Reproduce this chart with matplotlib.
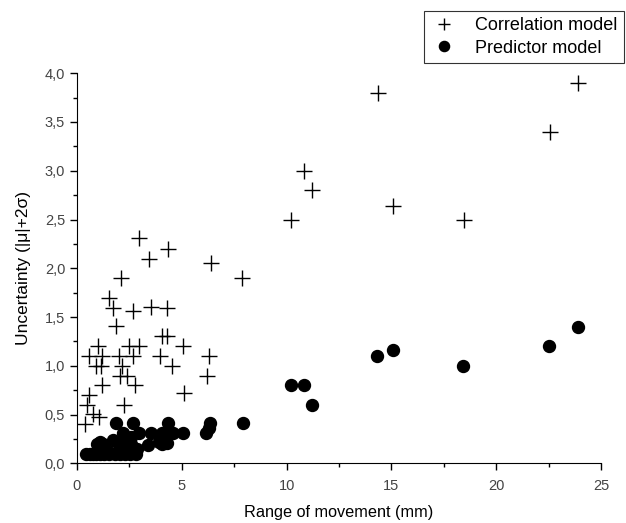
import matplotlib
matplotlib.use("Agg")
import matplotlib.pyplot as plt
from matplotlib.ticker import MultipleLocator, FuncFormatter

plt.rcParams["font.family"] = ["Liberation Sans", "DejaVu Sans"]

# Correlation model (crosses)
corr_x = [23.9, 14.35, 22.55, 10.85, 11.2, 10.2, 15.1, 18.45,
          2.95, 4.35, 3.45, 2.1, 1.55, 1.7, 2.65, 3.55, 4.3, 1.85,
          4.05, 4.3, 1.0, 2.5, 2.95, 5.05, 0.55, 1.2, 2.0, 2.65, 3.95,
          0.9, 1.15, 2.15, 4.55, 2.05, 2.4, 1.2, 2.75, 5.1, 0.55, 0.5,
          2.25, 0.75, 1.05, 0.4, 6.4, 7.85, 6.3, 6.2]
corr_y = [3.9, 3.8, 3.4, 3.0, 2.8, 2.5, 2.64, 2.5,
          2.31, 2.2, 2.1, 1.9, 1.7, 1.59, 1.56, 1.6, 1.59, 1.41,
          1.31, 1.31, 1.2, 1.2, 1.2, 1.2, 1.1, 1.1, 1.1, 1.1, 1.1,
          1.0, 1.0, 1.0, 1.0, 0.9, 0.9, 0.8, 0.8, 0.72, 0.7, 0.6,
          0.6, 0.51, 0.48, 0.4, 2.05, 1.9, 1.1, 0.9]

# Predictor model (filled circles)
pred_x = [0.45, 0.6, 0.75, 0.9, 1.1, 1.3, 1.55, 1.8, 2.05, 2.3, 2.55, 2.8,
          0.95, 1.1, 1.25, 1.7, 2.0, 2.3, 2.6, 2.85, 3.4, 3.9, 4.05, 4.3,
          1.2, 1.5, 2.2, 2.7, 2.2, 2.95, 3.55, 4.05, 4.45, 4.6, 5.05, 2.6, 2.4,
          1.85, 2.65, 4.35, 6.15, 6.3, 6.35, 7.9,
          10.2, 10.85, 11.2, 14.3, 15.1, 18.4, 22.5, 23.9]
pred_y = [0.1, 0.1, 0.1, 0.1, 0.1, 0.1, 0.1, 0.1, 0.1, 0.1, 0.1, 0.1,
          0.2, 0.22, 0.2, 0.24, 0.2, 0.18, 0.2, 0.15, 0.19, 0.22, 0.2, 0.21,
          0.15, 0.13, 0.13, 0.12, 0.31, 0.31, 0.31, 0.31, 0.32, 0.31, 0.31, 0.27, 0.22,
          0.41, 0.41, 0.41, 0.31, 0.36, 0.41, 0.41,
          0.8, 0.8, 0.6, 1.1, 1.16, 1.0, 1.2, 1.4]

fig = plt.figure(figsize=(6.26, 5.23), dpi=100)
ax = fig.add_axes([0.123, 0.114, 0.837, 0.746])

ax.plot(corr_x, corr_y, ls="none", marker="+", ms=11, mew=1.0, color="black",
        label="Correlation model")
ax.plot(pred_x, pred_y, ls="none", marker="o", ms=8.6, color="black",
        label="Predictor model")

ax.set_xlim(0, 25)
ax.set_ylim(0, 4)
ax.xaxis.set_major_locator(MultipleLocator(5))
ax.xaxis.set_minor_locator(MultipleLocator(2.5))
ax.yaxis.set_major_locator(MultipleLocator(0.5))
ax.yaxis.set_minor_locator(MultipleLocator(0.25))
ax.yaxis.set_major_formatter(FuncFormatter(lambda v, p: f"{v:.1f}".replace(".", ",")))
ax.xaxis.set_major_formatter(FuncFormatter(lambda v, p: f"{v:.0f}"))

for s in ["top", "right"]:
    ax.spines[s].set_visible(False)
ax.tick_params(which="major", length=5, width=1, labelsize=10.5, labelcolor="#444444")
ax.tick_params(axis="x", which="major", pad=6)
ax.tick_params(which="minor", length=3, width=1)

ax.set_xlabel("Range of movement (mm)", fontsize=11.7, labelpad=9)
ax.set_ylabel("Uncertainty (|μ|+2σ)", fontsize=12.5, labelpad=10)

leg = ax.legend(loc="upper left", bbox_to_anchor=(0.677, 0.979),
                bbox_transform=fig.transFigure, fontsize=13, frameon=True,
                fancybox=False, edgecolor="black", borderpad=0.35,
                handletextpad=1.0, labelspacing=0.3, handlelength=1.5,
                borderaxespad=0, markerscale=0.85)
leg.get_frame().set_linewidth(0.8)

fig.savefig("out.png", dpi=100)
